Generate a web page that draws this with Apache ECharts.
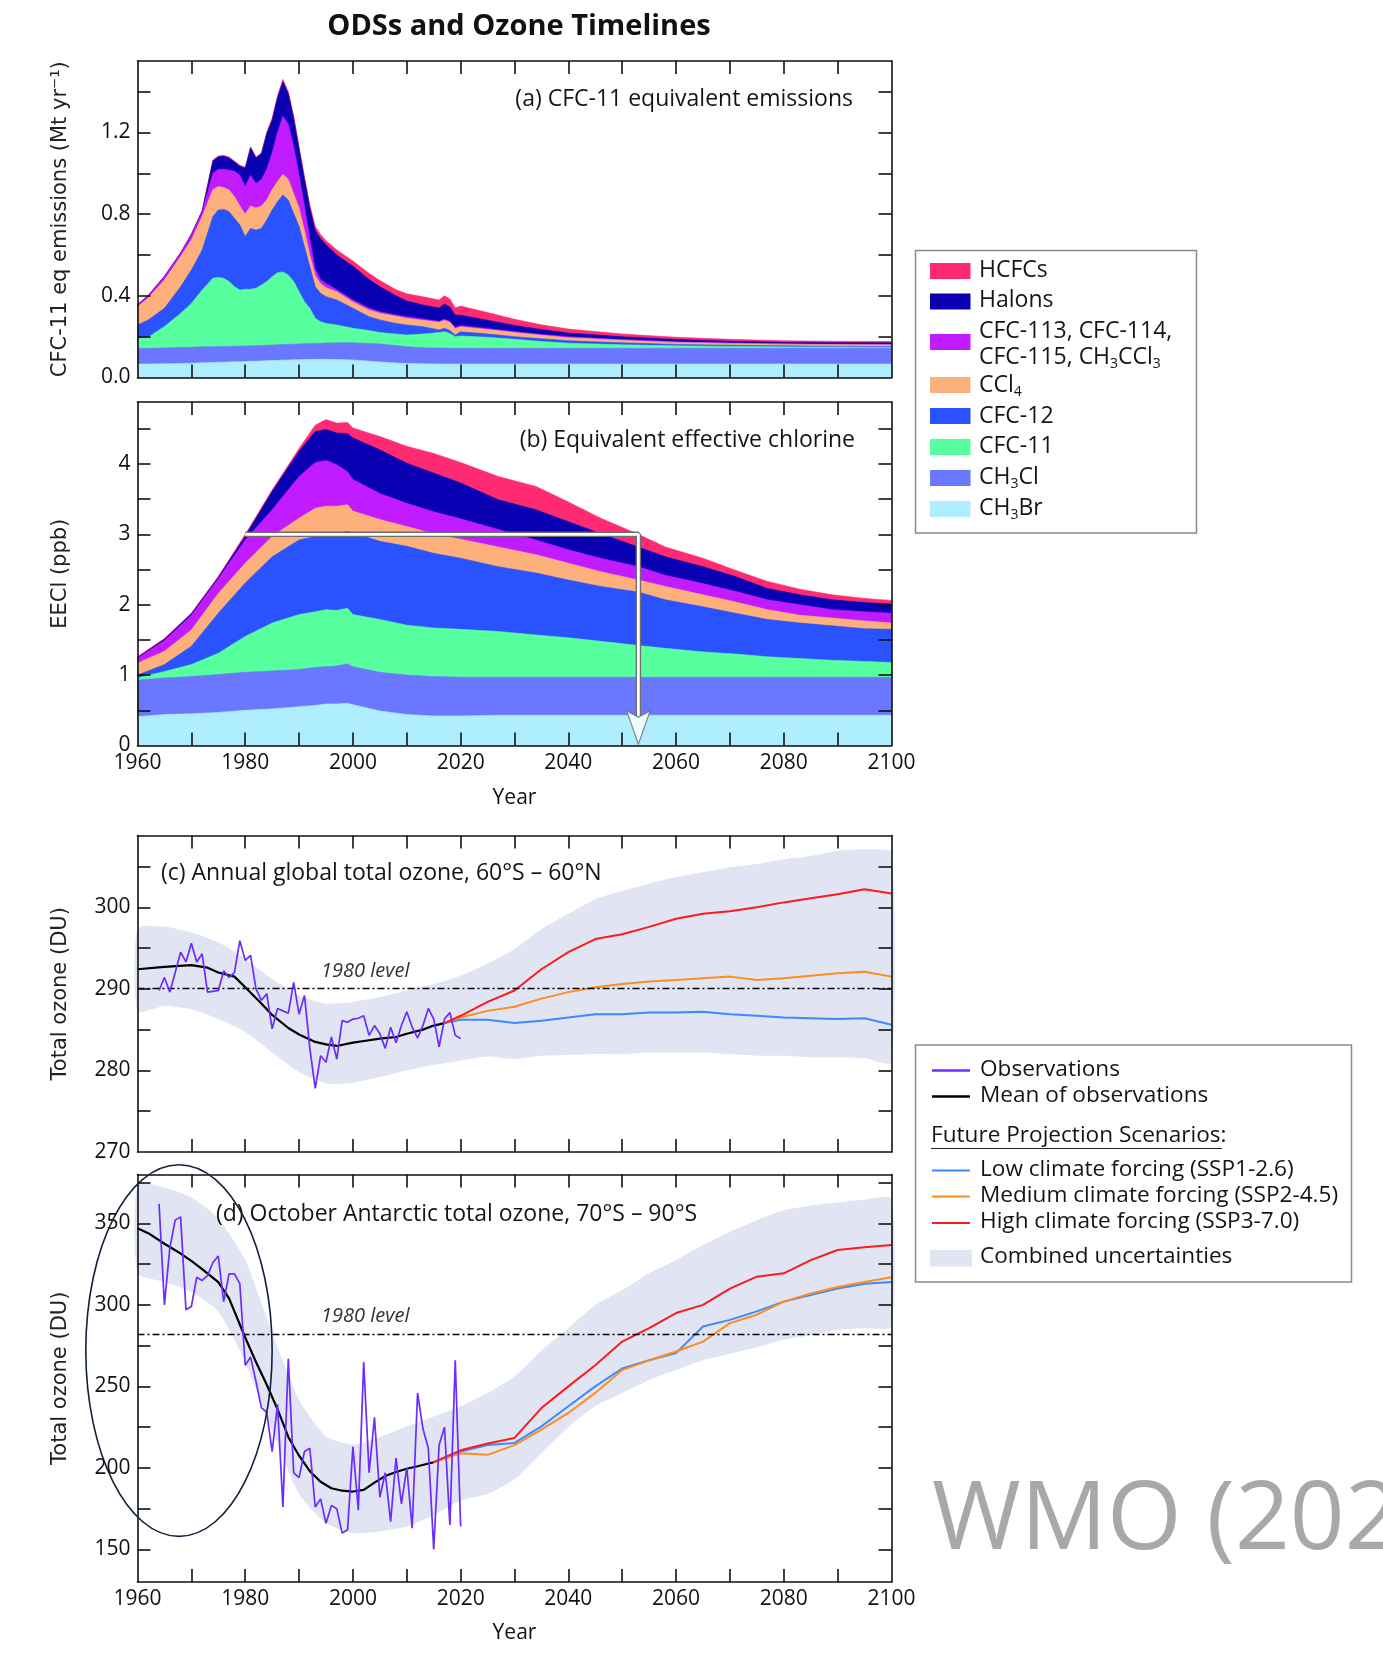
<!DOCTYPE html>
<html><head><meta charset="utf-8">
<script src="https://cdn.jsdelivr.net/npm/echarts@6/dist/echarts.min.js"></script>
<style>html,body{margin:0;padding:0;background:#fff;}#chart{width:1383px;height:1653px;}</style>
</head><body><div id="chart"></div>
<script>
// ---------------- DATA ----------------
// Panel (a): CFC-11 equivalent emissions (Mt/yr), contribution of each species
const yearsA = [1960,1962,1965,1968,1970,1972,1974,1975,1976,1977,1978,1979,1980,1981,1982,1983,1984,1985,1986,1987,1988,1989,1990,1991,1992,1993,1994,1995,1997,2000,2003,2005,2008,2010,2013,2016,2017,2018,2019,2020,2025,2030,2035,2040,2050,2060,2070,2080,2090,2100];
const ch3brA = [0.066,0.066,0.067,0.069,0.070,0.072,0.074,0.075,0.075,0.076,0.077,0.077,0.078,0.079,0.080,0.081,0.082,0.083,0.084,0.085,0.086,0.087,0.087,0.088,0.088,0.089,0.089,0.089,0.088,0.086,0.080,0.076,0.071,0.069,0.067,0.066,0.066,0.066,0.066,0.066,0.066,0.066,0.066,0.066,0.066,0.066,0.066,0.066,0.066,0.066];
const ch3clA = [0.077,0.077,0.078,0.078,0.078,0.078,0.077,0.077,0.077,0.077,0.076,0.077,0.076,0.076,0.076,0.076,0.076,0.076,0.076,0.076,0.076,0.076,0.077,0.077,0.078,0.078,0.079,0.080,0.082,0.084,0.087,0.088,0.086,0.082,0.079,0.078,0.078,0.077,0.077,0.077,0.077,0.077,0.077,0.077,0.077,0.077,0.077,0.077,0.077,0.077];
const cfc11A = [0.049,0.054,0.105,0.167,0.215,0.278,0.335,0.338,0.334,0.317,0.292,0.274,0.278,0.277,0.281,0.296,0.312,0.335,0.353,0.356,0.340,0.307,0.256,0.206,0.173,0.123,0.105,0.096,0.087,0.071,0.063,0.056,0.056,0.057,0.067,0.076,0.080,0.073,0.057,0.060,0.054,0.044,0.033,0.025,0.017,0.012,0.009,0.007,0.006,0.005];
const cfc12A = [0.065,0.085,0.089,0.131,0.163,0.196,0.302,0.330,0.337,0.342,0.335,0.319,0.258,0.298,0.285,0.277,0.301,0.326,0.348,0.377,0.367,0.334,0.319,0.270,0.204,0.155,0.139,0.131,0.123,0.098,0.068,0.062,0.052,0.049,0.036,0.013,0.017,0.014,0.008,0.021,0.016,0.013,0.014,0.012,0.010,0.007,0.006,0.005,0.004,0.004];
const ccl4A = [0.088,0.108,0.138,0.147,0.147,0.164,0.132,0.115,0.107,0.106,0.106,0.093,0.110,0.110,0.108,0.110,0.099,0.100,0.099,0.101,0.101,0.096,0.091,0.079,0.057,0.055,0.048,0.044,0.040,0.031,0.032,0.033,0.035,0.033,0.031,0.037,0.039,0.040,0.032,0.025,0.022,0.020,0.017,0.015,0.012,0.010,0.009,0.008,0.008,0.008];
const cfc113A = [0.010,0.010,0.017,0.016,0.025,0.024,0.080,0.085,0.090,0.097,0.124,0.150,0.135,0.150,0.120,0.130,0.150,0.180,0.240,0.285,0.270,0.230,0.160,0.120,0.080,0.030,0.020,0.020,0.010,0.010,0.010,0.007,0.006,0.008,0.007,0.005,0.005,0.005,0.005,0.005,0.005,0.005,0.004,0.005,0.004,0.003,0.002,0.002,0.002,0.002];
const halonsA = [0.001,0.001,0.001,0.001,0.002,0.003,0.060,0.060,0.063,0.060,0.045,0.045,0.090,0.135,0.125,0.125,0.175,0.160,0.170,0.170,0.150,0.140,0.130,0.130,0.150,0.190,0.200,0.190,0.170,0.165,0.140,0.123,0.094,0.077,0.068,0.065,0.075,0.070,0.060,0.051,0.040,0.030,0.024,0.018,0.013,0.011,0.009,0.007,0.007,0.008];
const hcfcA = [0.002,0.002,0.002,0.003,0.003,0.003,0.005,0.005,0.005,0.005,0.005,0.005,0.005,0.005,0.005,0.005,0.005,0.010,0.010,0.010,0.010,0.010,0.010,0.015,0.015,0.020,0.020,0.020,0.025,0.025,0.030,0.030,0.030,0.035,0.040,0.040,0.040,0.040,0.035,0.045,0.038,0.030,0.023,0.019,0.014,0.011,0.009,0.008,0.007,0.006];

// Panel (b): equivalent effective chlorine (ppb), contribution of each species
const yearsB = [1960,1965,1970,1975,1980,1985,1990,1993,1995,1997,1999,2000,2005,2010,2015,2020,2027,2034,2040,2046,2053,2058,2065,2071,2077,2083,2089,2095,2100];
const ch3brB = [0.41,0.44,0.45,0.47,0.50,0.52,0.55,0.57,0.59,0.59,0.60,0.58,0.49,0.44,0.42,0.42,0.43,0.43,0.43,0.43,0.43,0.43,0.43,0.43,0.43,0.43,0.43,0.43,0.43];
const ch3clB = [0.52,0.52,0.53,0.54,0.54,0.54,0.53,0.54,0.53,0.54,0.56,0.54,0.55,0.56,0.56,0.55,0.54,0.54,0.54,0.54,0.54,0.54,0.54,0.54,0.54,0.54,0.54,0.54,0.54];
const cfc11B = [0.03,0.09,0.17,0.30,0.51,0.68,0.78,0.79,0.81,0.79,0.79,0.74,0.75,0.71,0.69,0.68,0.65,0.60,0.56,0.51,0.45,0.41,0.36,0.33,0.29,0.265,0.24,0.225,0.21];
const cfc12B = [0.04,0.10,0.26,0.57,0.76,0.94,1.06,1.07,1.06,1.10,1.09,1.16,1.11,1.12,1.06,1.01,0.92,0.88,0.82,0.78,0.76,0.69,0.64,0.58,0.53,0.505,0.49,0.465,0.47];
const ccl4B = [0.17,0.19,0.23,0.28,0.28,0.29,0.31,0.40,0.41,0.38,0.38,0.31,0.31,0.28,0.28,0.27,0.28,0.26,0.24,0.21,0.17,0.19,0.17,0.16,0.14,0.11,0.11,0.11,0.09];
const cfc113B = [0.07,0.15,0.21,0.21,0.33,0.38,0.59,0.65,0.65,0.59,0.47,0.45,0.37,0.33,0.31,0.29,0.25,0.21,0.19,0.19,0.19,0.16,0.16,0.15,0.14,0.15,0.12,0.13,0.14];
const halonsB = [0.01,0.02,0.02,0.02,0.05,0.26,0.36,0.44,0.44,0.45,0.54,0.59,0.62,0.57,0.55,0.51,0.42,0.43,0.40,0.35,0.28,0.26,0.24,0.21,0.16,0.14,0.14,0.13,0.13];
const hcfcB = [0.01,0.01,0.01,0.01,0.03,0.02,0.04,0.09,0.14,0.14,0.16,0.14,0.19,0.24,0.28,0.29,0.33,0.33,0.28,0.22,0.18,0.14,0.12,0.09,0.10,0.08,0.07,0.06,0.05];
// EECl return-to-1980 annotation (year, ppb)
const arrowPath = [[1980, 3.0], [2053, 3.0], [2053, 0.42]];
const arrowHead = [[2053, 0.26]];

// Panels (c) and (d): total ozone (DU)
const obsYears = [1964,1965,1966,1967,1968,1969,1970,1971,1972,1973,1974,1975,1976,1977,1978,1979,1980,1981,1982,1983,1984,1985,1986,1987,1988,1989,1990,1991,1992,1993,1994,1995,1996,1997,1998,1999,2000,2001,2002,2003,2004,2005,2006,2007,2008,2009,2010,2011,2012,2013,2014,2015,2016,2017,2018,2019,2020];
const obsC = [289.8,291.4,289.6,292.0,294.5,293.3,295.6,293.3,294.3,289.6,289.7,289.8,292.2,291.4,292.0,295.9,293.5,294.1,290.0,288.6,289.4,285.1,287.6,287.3,287.0,290.8,286.9,289.2,282.7,277.8,281.8,281.0,284.1,281.4,286.1,285.9,286.3,286.4,286.7,284.3,285.5,284.5,282.7,285.3,283.4,285.5,287.2,285.3,284.0,285.5,287.6,286.3,282.9,286.3,287.1,284.3,283.9];
const obsD = [362,300,335,352,354,297,299,317,315,318,326,330,302,319,319,313,263,268,253,237,234,210,239,176,267,197,194,210,212,176,181,166,177,175,160,162,213,174,265,197,231,182,197,167,206,178,200,163,246,224,212,150,214,225,165,266,164];

const meanYearsC = [1960,1965,1970,1973,1975,1978,1980,1983,1985,1988,1990,1993,1995,1997,2000,2003,2005,2008,2010,2013,2015,2017];
const meanC = [292.4,292.7,292.9,292.6,292.0,291.5,290.2,288.2,286.8,285.2,284.4,283.5,283.2,283.0,283.4,283.7,283.9,284.1,284.5,285.0,285.5,285.8];
const meanYearsD = [1960,1962,1965,1968,1970,1972,1975,1977,1979,1980,1982,1984,1986,1988,1990,1992,1994,1996,1998,2000,2002,2004,2006,2008,2010,2012,2015];
const meanD = [347,344,337.5,331.5,327,322,314,304,288,280,265,251,236,219,207.5,198,191.5,187.5,186,185.5,186.5,191,195,197.5,199.5,201,203.5];

const projYearsC = [2017,2020,2025,2030,2035,2040,2045,2050,2055,2060,2065,2070,2075,2080,2085,2090,2095,2100];
const ssp126C = [285.8,286.2,286.2,285.8,286.1,286.5,286.9,286.9,287.1,287.1,287.2,286.9,286.7,286.5,286.4,286.3,286.4,285.6];
const ssp245C = [285.8,286.5,287.3,287.8,288.8,289.6,290.2,290.6,290.9,291.1,291.3,291.5,291.1,291.3,291.6,291.9,292.1,291.5];
const ssp370C = [285.8,286.7,288.4,289.8,292.4,294.5,296.1,296.7,297.6,298.6,299.2,299.5,300.0,300.6,301.1,301.6,302.2,301.7];

const projYearsD = [2015,2020,2025,2030,2035,2040,2045,2050,2055,2060,2065,2070,2075,2080,2085,2090,2095,2100];
const ssp126D = [203.5,210,214,215.3,225.5,237.8,250,261,266,270.4,286.7,290.8,296,302,306,310,313,314];
const ssp245D = [203.5,209,208,214,223.5,233.7,246,260,266,271.4,277.5,288.8,294,302,307,311,314,317];
const ssp370D = [203.5,210.8,215,218.4,236.7,250,263,277.5,285.7,295,300,310,317.3,319.4,327.5,333.7,335.3,336.7];

const bandYears = [1960,1965,1970,1975,1980,1985,1990,1995,2000,2005,2010,2015,2020,2025,2030,2035,2040,2045,2050,2055,2060,2065,2070,2075,2080,2085,2090,2095,2100];
const upperC = [297.4,297.6,296.9,295.7,293.7,291.2,289.2,288.2,288.4,289.0,289.8,290.6,291.6,293.1,294.9,297.3,299.2,301.0,302.0,302.9,303.7,304.3,304.9,305.3,305.9,306.3,306.9,307.1,306.7];
const lowerC = [287.3,287.9,287.5,286.3,284.7,282.2,279.8,278.4,278.5,279.2,280.0,280.7,281.2,281.7,281.4,281.8,281.9,282.0,282.0,282.2,282.2,282.2,282.0,281.8,281.8,281.6,281.6,281.5,281.0];
const upperD = [373.5,372,366,353,327.5,282.7,241.8,219.4,214.3,219,225.5,231.6,237.8,246,256,272,285.7,300,309,319.4,327.5,336.7,344.9,352,358,361,363,364.7,365.3];
const lowerD = [319.5,314,308,296,265,223,184,166,160,161,164,171,180,184,193,209,225,238,246,254,260,266,270,274,278.6,281.6,284.7,285.7,286.7];

const level1980C = 290.1;
const level1980D = 282;
// Highlight ellipse around early Antarctic observations (data units)
const ellipseNote = { year: 1967.7, ozone: 272, halfYears: 17.3, halfDU: 114 };

// Tick values / labels
const xTickYears = [1970,1980,1990,2000,2010,2020,2030,2040,2050,2060,2070,2080,2090];
const xLabelYears = [1960,1980,2000,2020,2040,2060,2080,2100];
const yTicksA = [0.2,0.4,0.6,0.8,1.0,1.2,1.4];
const yLabelsA = [0,0.4,0.8,1.2];
const yTicksB = [0.5,1,1.5,2,2.5,3,3.5,4,4.5];
const yLabelsB = [0,1,2,3,4];
const yTicksC = [275,280,285,290,295,300,305];
const yLabelsC = [270,280,290,300];
const yTicksD = [150,175,200,225,250,275,300,325,350,375];
const yLabelsD = [150,200,250,300,350];

// ---------------- STYLE ----------------
const FONT = "'Open Sans','Noto Sans','DejaVu Sans',sans-serif";
const NAMEFONT = "'DejaVu Sans','Noto Sans',sans-serif";
const speciesColors = {
  'HCFCs': '#ff2b72', 'Halons': '#0800b2', 'CFC-113, CFC-114, CFC-115, CH3CCl3': '#c11cff',
  'CCl4': '#fdb07c', 'CFC-12': '#2a53ff', 'CFC-11': '#58ff9e', 'CH3Cl': '#6a78ff', 'CH3Br': '#aeeeff'
};
const COL_OBS = '#6a2cff', COL_MEAN = '#000000', COL_LOW = '#3b8aff', COL_MED = '#ff8c1f', COL_HIGH = '#ff1a1a', COL_BAND = '#e1e4f3';

const zip = (xs, ys) => xs.map((x, i) => [x, ys[i]]);

const grids = [
  {left: 137.5, top: 61, width: 754, height: 316.5},
  {left: 137.5, top: 402, width: 754, height: 343.5},
  {left: 137.5, top: 835.5, width: 754, height: 316.5},
  {left: 137.5, top: 1174.5, width: 754, height: 407.5}
].map(g => Object.assign({show: false, containLabel: false, outerBoundsMode: 'none'}, g));

const fmtA = v => v.toFixed(1);
const fmtI = v => String(Math.round(v));

function xAxisDef(grid, pos, withLabels, name, gap) {
  return {
    type: 'value', gridIndex: grid, position: pos, min: 1960, max: 2100, z: 10,
    axisLine: {show: true, onZero: false, lineStyle: {color: '#111', width: 1.6}},
    axisTick: {show: true, inside: true, length: 13, customValues: xTickYears, lineStyle: {color: '#111', width: 1.6}},
    axisLabel: {show: withLabels, customValues: xLabelYears, margin: 7, fontFamily: FONT, fontSize: 21, color: '#111', formatter: fmtI},
    splitLine: {show: false},
    name: name || '', nameLocation: 'middle', nameGap: gap || 0,
    nameTextStyle: {fontFamily: FONT, fontSize: 21, color: '#111'}
  };
}
function yAxisDef(grid, pos, ext, ticks, labels, fmt, name) {
  const left = pos === 'left';
  return {
    type: 'value', gridIndex: grid, position: pos, min: ext[0], max: ext[1], z: 10,
    axisLine: {show: true, onZero: false, lineStyle: {color: '#111', width: 1.6}},
    axisTick: {show: true, inside: true, length: 13, customValues: ticks, lineStyle: {color: '#111', width: 1.6}},
    axisLabel: {show: left, customValues: labels, margin: 7, fontFamily: FONT, fontSize: 21, color: '#111', formatter: fmt},
    splitLine: {show: false},
    name: left ? name : '', nameLocation: 'middle', nameGap: 66, nameRotate: 90,
    nameTextStyle: {fontFamily: NAMEFONT, fontSize: 21, color: '#222'}
  };
}

const xAxes = [
  xAxisDef(0, 'bottom', false), xAxisDef(0, 'top', false),
  xAxisDef(1, 'bottom', true, 'Year', 42), xAxisDef(1, 'top', false),
  xAxisDef(2, 'bottom', false), xAxisDef(2, 'top', false),
  xAxisDef(3, 'bottom', true, 'Year', 41), xAxisDef(3, 'top', false)
];
const yAxes = [
  yAxisDef(0, 'left', [0, 1.55], yTicksA, yLabelsA, fmtA, 'CFC-11 eq emissions (Mt yr\u207B\u00B9)'),
  yAxisDef(0, 'right', [0, 1.55], yTicksA, yLabelsA, fmtA),
  yAxisDef(1, 'left', [0, 4.88], yTicksB, yLabelsB, fmtI, 'EECl (ppb)'),
  yAxisDef(1, 'right', [0, 4.88], yTicksB, yLabelsB, fmtI),
  yAxisDef(2, 'left', [270, 308.8], yTicksC, yLabelsC, fmtI, 'Total ozone (DU)'),
  yAxisDef(2, 'right', [270, 308.8], yTicksC, yLabelsC, fmtI),
  yAxisDef(3, 'left', [130, 380], yTicksD, yLabelsD, fmtI, 'Total ozone (DU)'),
  yAxisDef(3, 'right', [130, 380], yTicksD, yLabelsD, fmtI)
];

// Stacked layers: running totals are built from the species arrays and drawn top layer first,
// each filled down to the axis, so every band shows one species' contribution.
function layerSeries(species, years, axis) {
  const totals = [];
  let run = years.map(() => 0);
  species.forEach(([name, vals]) => {
    run = run.map((r, i) => r + vals[i]);
    totals.push([name, run.slice()]);
  });
  return totals.reverse().map(([name, tot]) => {
    const c = speciesColors[name];
    return {
      type: 'line', name, xAxisIndex: axis, yAxisIndex: axis, data: zip(years, tot),
      symbol: 'none', showSymbol: false, smooth: false,
      lineStyle: {width: 0.6, color: c}, areaStyle: {color: c, opacity: 1, origin: 'start'},
      itemStyle: {color: c}, silent: true, z: 2
    };
  });
}
const speciesA = [['CH3Br', ch3brA], ['CH3Cl', ch3clA], ['CFC-11', cfc11A], ['CFC-12', cfc12A], ['CCl4', ccl4A], ['CFC-113, CFC-114, CFC-115, CH3CCl3', cfc113A], ['Halons', halonsA], ['HCFCs', hcfcA]];
const speciesB = [['CH3Br', ch3brB], ['CH3Cl', ch3clB], ['CFC-11', cfc11B], ['CFC-12', cfc12B], ['CCl4', ccl4B], ['CFC-113, CFC-114, CFC-115, CH3CCl3', cfc113B], ['Halons', halonsB], ['HCFCs', hcfcB]];

function lineSeries(name, xs, ys, axis, color, width, z, extra) {
  return Object.assign({
    type: 'line', name, xAxisIndex: axis, yAxisIndex: axis, data: zip(xs, ys),
    symbol: 'none', showSymbol: false, smooth: false,
    lineStyle: {color, width}, itemStyle: {color}, silent: true, z
  }, extra || {});
}
// Uncertainty band: polygon between lower and upper bounds, placed through the axes' scales
function bandSeries(axis, lower, upper) {
  return {
    type: 'custom', name: 'Combined uncertainties', xAxisIndex: axis, yAxisIndex: axis, silent: true, z: 1,
    data: bandYears.map((y, i) => [y, lower[i], upper[i]]),
    encode: {x: 0, y: [1, 2]},
    renderItem: (params, api) => {
      if (params.dataIndex !== 0) return null;
      const top = bandYears.map((y, i) => api.coord([y, upper[i]]));
      const bot = bandYears.map((y, i) => api.coord([y, lower[i]])).reverse();
      return {type: 'polygon', shape: {points: top.concat(bot), smooth: 0.2}, style: {fill: COL_BAND}};
    }
  };
}
function levelLine(v) {
  return {silent: true, symbol: ['none', 'none'], label: {show: false},
          lineStyle: {color: '#000', width: 1.3, type: [7, 3, 2, 3]}, data: [{yAxis: v}]};
}

const series = [];
layerSeries(speciesA, yearsA, 0).forEach(s => series.push(s));
layerSeries(speciesB, yearsB, 2).forEach(s => series.push(s));
series.push(lineSeries('arrow-outline', arrowPath.map(p => p[0]), arrowPath.map(p => p[1]), 2, '#6e6e6e', 5.5, 5));
series.push(lineSeries('arrow-inner', arrowPath.map(p => p[0]), arrowPath.map(p => p[1]), 2, '#ffffff', 2.8, 6));
series.push({type: 'scatter', name: 'arrow-head', xAxisIndex: 2, yAxisIndex: 2, data: arrowHead,
  symbol: 'path://M0,0 L12,7 L24,0 L12,34 Z', symbolSize: [24, 34],
  itemStyle: {color: '#ffffff', borderColor: '#6e6e6e', borderWidth: 1.3}, silent: true, z: 7});

series.push(bandSeries(4, lowerC, upperC));
series.push(lineSeries('Mean of observations', meanYearsC, meanC, 4, COL_MEAN, 2.2, 3, {markLine: levelLine(level1980C)}));
series.push(lineSeries('Low climate forcing (SSP1-2.6)', projYearsC, ssp126C, 4, COL_LOW, 2, 4));
series.push(lineSeries('Medium climate forcing (SSP2-4.5)', projYearsC, ssp245C, 4, COL_MED, 2, 4));
series.push(lineSeries('High climate forcing (SSP3-7.0)', projYearsC, ssp370C, 4, COL_HIGH, 2, 4));
series.push(lineSeries('Observations', obsYears, obsC, 4, COL_OBS, 1.7, 5));

series.push(bandSeries(6, lowerD, upperD));
series.push(lineSeries('Mean of observations', meanYearsD, meanD, 6, COL_MEAN, 2.2, 3, {markLine: levelLine(level1980D)}));
series.push(lineSeries('Low climate forcing (SSP1-2.6)', projYearsD, ssp126D, 6, COL_LOW, 2, 4));
series.push(lineSeries('Medium climate forcing (SSP2-4.5)', projYearsD, ssp245D, 6, COL_MED, 2, 4));
series.push(lineSeries('High climate forcing (SSP3-7.0)', projYearsD, ssp370D, 6, COL_HIGH, 2, 4));
series.push(lineSeries('Observations', obsYears, obsD, 6, COL_OBS, 1.7, 5));

const chart = echarts.init(document.getElementById('chart'), null, {renderer: 'canvas'});
chart.setOption({
  animation: false, backgroundColor: '#ffffff',
  grid: grids, xAxis: xAxes, yAxis: yAxes, series
});

// ---------------- ANNOTATIONS / LEGENDS ----------------
function txt(x, y, text, size, opts) {
  return {type: 'text', x, y, z: 50, silent: true,
    style: Object.assign({text, fontSize: size, fontFamily: FONT, fill: '#151515', align: 'left', verticalAlign: 'middle'}, opts || {})};
}
const subRich = {s: {fontSize: 14, fontFamily: FONT, fill: '#151515', verticalAlign: 'bottom', lineHeight: 14}};
const g = [];
g.push(txt(519, 27, 'ODSs and Ozone Timelines', 29, {align: 'center', fontWeight: 'bold', fill: '#111'}));
g.push(txt(853, 99, '(a) CFC-11 equivalent emissions', 23, {align: 'right'}));
g.push(txt(855, 440, '(b) Equivalent effective chlorine', 23, {align: 'right'}));
g.push(txt(161, 873, '(c) Annual global total ozone, 60°S – 60°N', 23));
g.push(txt(216, 1214, '(d) October Antarctic total ozone, 70°S – 90°S', 23));
g.push(txt(321, 971, '1980 level', 20, {fontStyle: 'italic', fill: '#333'}));
g.push(txt(321, 1316, '1980 level', 20, {fontStyle: 'italic', fill: '#333'}));

// Legend 1 (species)
g.push({type: 'rect', shape: {x: 915.5, y: 250.5, width: 281, height: 282.5}, style: {fill: '#fff', stroke: '#8a8a8a', lineWidth: 1.5}, z: 40, silent: true});
const legendA = [
  ['HCFCs', 271, [['HCFCs', 270]]],
  ['Halons', 301.5, [['Halons', 300]]],
  ['CFC-113, CFC-114, CFC-115, CH3CCl3', 342, [['CFC-113, CFC-114,', 331], ['CFC-115, CH{s|3}CCl{s|3}', 357]]],
  ['CCl4', 385, [['CCl{s|4}', 385]]],
  ['CFC-12', 416, [['CFC-12', 416]]],
  ['CFC-11', 447, [['CFC-11', 446]]],
  ['CH3Cl', 478, [['CH{s|3}Cl', 477]]],
  ['CH3Br', 509, [['CH{s|3}Br', 508]]]
];
legendA.forEach(([key, cy, lines]) => {
  g.push({type: 'rect', shape: {x: 930, y: cy - 8, width: 40.5, height: 16}, style: {fill: speciesColors[key]}, z: 45, silent: true});
  lines.forEach(([t, ty]) => g.push(txt(979, ty, t, 23, {rich: subRich, lineHeight: 28})));
});

// Legend 2 (ozone)
g.push({type: 'rect', shape: {x: 915.5, y: 1045, width: 436, height: 237}, style: {fill: '#fff', stroke: '#8a8a8a', lineWidth: 1.5}, z: 40, silent: true});
const legendB = [
  ['Observations', 1070.5, COL_OBS, 2.6],
  ['Mean of observations', 1096.5, COL_MEAN, 2.6],
  ['Low climate forcing (SSP1-2.6)', 1170.5, COL_LOW, 1.8],
  ['Medium climate forcing (SSP2-4.5)', 1196.5, COL_MED, 1.8],
  ['High climate forcing (SSP3-7.0)', 1223, COL_HIGH, 1.8]
];
legendB.forEach(([t, cy, c, w]) => {
  g.push({type: 'line', shape: {x1: 932, y1: cy, x2: 970, y2: cy}, style: {stroke: c, lineWidth: w}, z: 45, silent: true});
  g.push(txt(980, cy - 1, t, 22.6));
});
g.push(txt(931, 1136, 'Future Projection Scenarios:', 22.6));
g.push({type: 'line', shape: {x1: 931, y1: 1148.5, x2: 1222, y2: 1148.5}, style: {stroke: '#222', lineWidth: 1.2}, z: 45, silent: true});
g.push({type: 'rect', shape: {x: 930, y: 1250, width: 42, height: 16.5}, style: {fill: COL_BAND}, z: 45, silent: true});
g.push(txt(980, 1257, 'Combined uncertainties', 22.6));

// Watermark
g.push(txt(932, 1522, 'WMO (2022)', 96, {fill: '#a8a8a8'}));

// Ellipse annotation located via the panel (d) scales
const cen = chart.convertToPixel({xAxisIndex: 6, yAxisIndex: 6}, [ellipseNote.year, ellipseNote.ozone]);
const edge = chart.convertToPixel({xAxisIndex: 6, yAxisIndex: 6}, [ellipseNote.year + ellipseNote.halfYears, ellipseNote.ozone + ellipseNote.halfDU]);
g.push({type: 'ellipse', shape: {cx: cen[0], cy: cen[1], rx: Math.abs(edge[0] - cen[0]), ry: Math.abs(cen[1] - edge[1])},
  style: {fill: 'none', stroke: '#10223a', lineWidth: 1.6}, z: 60, silent: true});

chart.setOption({graphic: {elements: g}});
</script></body></html>
